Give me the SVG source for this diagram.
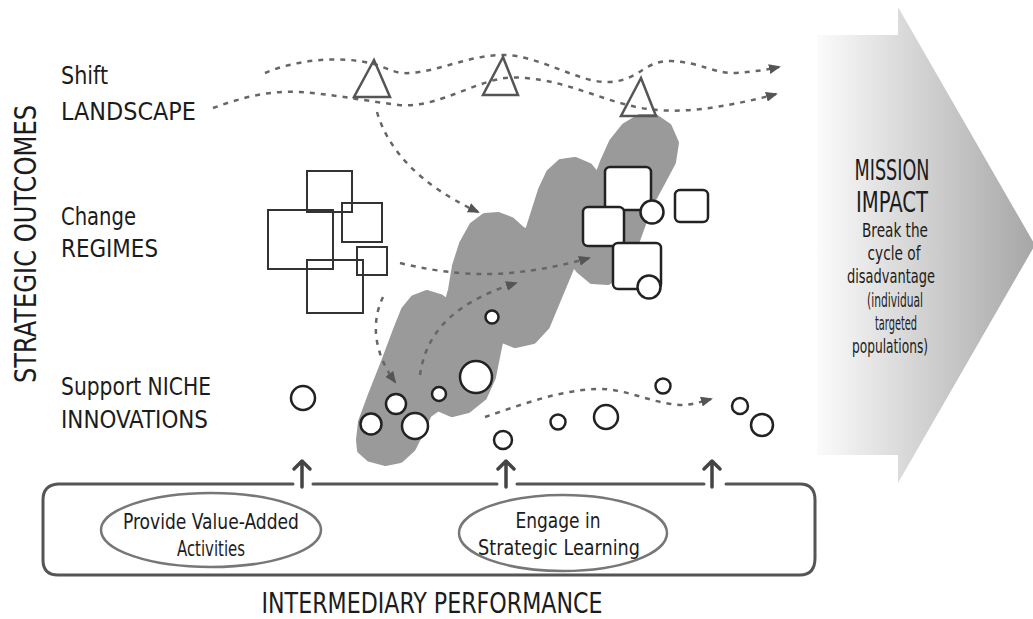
<svg xmlns="http://www.w3.org/2000/svg" width="1033" height="619" viewBox="0 0 1033 619">
<style>
text{font-family:"Liberation Sans Narrow","DejaVu Sans Condensed","Liberation Sans",sans-serif;fill:#1c1c1c}
.lbl{font-size:25px}
.big{font-size:29px}
.sm{font-size:21px}
.rs{font-size:20px}
.dash{fill:none;stroke:#666;stroke-width:2.5;stroke-dasharray:5 6}
.tri{fill:none;stroke:#555;stroke-width:2.5;stroke-linejoin:miter}
.osq{fill:none;stroke:#333;stroke-width:2}
.wsq{fill:#fff;stroke:#222;stroke-width:2.5}
.cir{fill:#fff;stroke:#222;stroke-width:2.5}
.box{fill:none;stroke:#555;stroke-width:3;stroke-linecap:round}
.ell{fill:none;stroke:#777;stroke-width:2.5}
.up{fill:none;stroke:#444;stroke-width:3.5;stroke-linecap:round;stroke-linejoin:round}
</style>
<defs>
<linearGradient id="gArrow" x1="817" y1="0" x2="1035" y2="0" gradientUnits="userSpaceOnUse">
<stop offset="0" stop-color="#fbfbfb"/>
<stop offset="1" stop-color="#a6a6a6"/>
</linearGradient>
<marker id="ah" viewBox="0 0 12 10" refX="10" refY="5" markerWidth="12" markerHeight="10" markerUnits="userSpaceOnUse" orient="auto">
<path d="M0,0 L12,5 L0,10 z" fill="#555"/>
</marker>
</defs>

<g id="mission-arrow">
<path d="M817,35 H898 V7 L1035,245 L898,483 V455 H817 Z" fill="url(#gArrow)"/>
<text class="big" x="892" y="180" text-anchor="middle" textLength="75" lengthAdjust="spacingAndGlyphs">MISSION</text>
<text class="big" x="892" y="212" text-anchor="middle" textLength="72" lengthAdjust="spacingAndGlyphs">IMPACT</text>
<text class="rs" x="895" y="237" text-anchor="middle" textLength="66" lengthAdjust="spacingAndGlyphs">Break the</text>
<text class="rs" x="894" y="260" text-anchor="middle" textLength="53" lengthAdjust="spacingAndGlyphs">cycle of</text>
<text class="rs" x="891" y="283" text-anchor="middle" textLength="88" lengthAdjust="spacingAndGlyphs">disadvantage</text>
<text class="rs" x="895" y="307" text-anchor="middle" textLength="56" lengthAdjust="spacingAndGlyphs">(individual</text>
<text class="rs" x="896" y="330" text-anchor="middle" textLength="42" lengthAdjust="spacingAndGlyphs">targeted</text>
<text class="rs" x="890" y="353" text-anchor="middle" textLength="76" lengthAdjust="spacingAndGlyphs">populations)</text>
</g>

<g id="blob">
<path d="M360,440 L362,422 L372,395 L385,362 L397,330 L405,310 L414,299 L427,294 L440,298 L448,304 L452,290 L456,266 L463,244 L473,226 L485,217 L498,216 L511,221 L521,230 L528,234 L535,212 L542,190 L550,173 L561,163 L575,161 L589,167 L598,178 L604,162 L613,142 L625,127 L640,118 L655,118 L668,127 L675,143 L672,162 L662,181 L651,201 L643,221 L634,246 L623,269 L608,281 L592,280 L580,270 L573,261 L566,278 L556,302 L546,326 L533,340 L515,344 L500,338 L497,352 L492,377 L483,397 L468,409 L452,413 L438,407 L428,414 L420,432 L412,448 L400,459 L385,462 L370,458 L361,450 Z" fill="#9a9a9a" stroke="#9a9a9a" stroke-width="8" stroke-linejoin="round"/>
</g>

<g id="labels">
<text class="lbl" x="61" y="84" textLength="47" lengthAdjust="spacingAndGlyphs">Shift</text>
<text class="lbl" x="61" y="120" textLength="135" lengthAdjust="spacingAndGlyphs">LANDSCAPE</text>
<text class="lbl" x="61" y="225" textLength="75" lengthAdjust="spacingAndGlyphs">Change</text>
<text class="lbl" x="61" y="257" textLength="97" lengthAdjust="spacingAndGlyphs">REGIMES</text>
<text class="lbl" x="61" y="395" textLength="150" lengthAdjust="spacingAndGlyphs">Support NICHE</text>
<text class="lbl" x="61" y="428" textLength="147" lengthAdjust="spacingAndGlyphs">INNOVATIONS</text>
<text transform="translate(36,244) rotate(-90)" x="0" y="0" text-anchor="middle" style="font-size:31px" textLength="278" lengthAdjust="spacingAndGlyphs">STRATEGIC OUTCOMES</text>
<text x="432" y="613" text-anchor="middle" style="font-size:28px" textLength="341" lengthAdjust="spacingAndGlyphs">INTERMEDIARY PERFORMANCE</text>
</g>

<g id="connectors">
<path class="dash" d="M265,73 C295,60 340,55 374,64 C390,69 395,74 410,73 C440,71 470,55 503,55 C540,55 580,84 610,82 C640,80 645,60 671,61 C700,62 715,74 736,73 C752,72 765,70 779,67" marker-end="url(#ah)"/>
<path class="dash" d="M213,108 C240,98 270,90 300,92 C330,94 360,100 399,105 C430,108 460,90 491,81 C505,77 515,77 526,78 C570,82 600,100 641,108 C665,112 690,111 710,108 C735,104 755,100 776,94" marker-end="url(#ah)"/>
<path class="dash" d="M377,112 C388,150 420,185 478,212" marker-end="url(#ah)"/>
<path class="dash" d="M400,263 C440,273 480,276 510,273 C540,270 565,265 589,258" marker-end="url(#ah)"/>
<path class="dash" d="M383,297 C372,320 372,350 395,382" marker-end="url(#ah)"/>
<path class="dash" d="M420,375 C425,340 445,305 516,283" marker-end="url(#ah)"/>
<path class="dash" d="M485,417 C520,405 560,390 597,389 C625,388 650,403 680,405 C692,405 700,402 711,399" marker-end="url(#ah)"/>
</g>

<g id="landscape-triangles">
<path class="tri" d="M374,60 L354,97 L390,97 Z"/>
<path class="tri" d="M503,57 L483,95 L518,95 Z"/>
<path class="tri" d="M641,78 L621,116 L656,116 Z"/>
</g>

<g id="regime-squares">
<rect class="osq" x="307" y="171" width="45" height="41"/>
<rect class="osq" x="268" y="210" width="65" height="59"/>
<rect class="osq" x="342" y="203" width="40" height="39"/>
<rect class="osq" x="357" y="247" width="30" height="28"/>
<rect class="osq" x="307" y="260" width="56" height="53"/>
</g>

<g id="new-regime">
<rect class="wsq" x="605" y="167" width="46" height="43" rx="5"/>
<rect class="wsq" x="583" y="207" width="41" height="39" rx="5"/>
<rect class="wsq" x="675" y="190" width="33" height="32" rx="5"/>
<circle class="cir" cx="652" cy="212" r="11.5"/>
<rect class="wsq" x="613" y="243" width="48" height="46" rx="5"/>
<circle class="cir" cx="649" cy="287" r="11.5"/>
</g>

<g id="niche-circles">
<circle class="cir" cx="303" cy="398" r="12"/>
<circle class="cir" cx="492" cy="317" r="6.5"/>
<circle class="cir" cx="476" cy="377" r="16"/>
<circle class="cir" cx="439" cy="394" r="7"/>
<circle class="cir" cx="396" cy="404" r="10"/>
<circle class="cir" cx="371" cy="424" r="10.5"/>
<circle class="cir" cx="415" cy="426" r="13"/>
<circle class="cir" cx="503" cy="440" r="9"/>
<circle class="cir" cx="558" cy="422" r="7.5"/>
<circle class="cir" cx="606" cy="417" r="12"/>
<circle class="cir" cx="663" cy="386" r="7.5"/>
<circle class="cir" cx="740" cy="406" r="8"/>
<circle class="cir" cx="762" cy="425" r="11"/>
</g>

<g id="intermediary-box">
<path class="box" d="M293,484 H58 Q43,485 43,500 V560 Q43,575 58,575 H800 Q815,575 815,558 V500 Q815,484 800,484 H726"/>
<path class="box" d="M313,484 H497"/>
<path class="box" d="M517,484 H704"/>
<path class="up" d="M302,487 V462 M294,469 L302,461 L310,469"/>
<path class="up" d="M506,487 V462 M498,469 L506,461 L514,469"/>
<path class="up" d="M712,487 V462 M704,469 L712,461 L720,469"/>
</g>

<g id="value-added">
<ellipse class="ell" cx="211" cy="530" rx="110" ry="37"/>
<text class="sm" x="211" y="529" text-anchor="middle" textLength="176" lengthAdjust="spacingAndGlyphs">Provide Value-Added</text>
<text class="sm" x="211" y="556" text-anchor="middle" textLength="68" lengthAdjust="spacingAndGlyphs">Activities</text>
</g>

<g id="strategic-learning">
<ellipse class="ell" cx="563" cy="533" rx="104" ry="38"/>
<text class="sm" x="558" y="528" text-anchor="middle" textLength="85" lengthAdjust="spacingAndGlyphs">Engage in</text>
<text class="sm" x="559" y="555" text-anchor="middle" textLength="162" lengthAdjust="spacingAndGlyphs">Strategic Learning</text>
</g>
</svg>
